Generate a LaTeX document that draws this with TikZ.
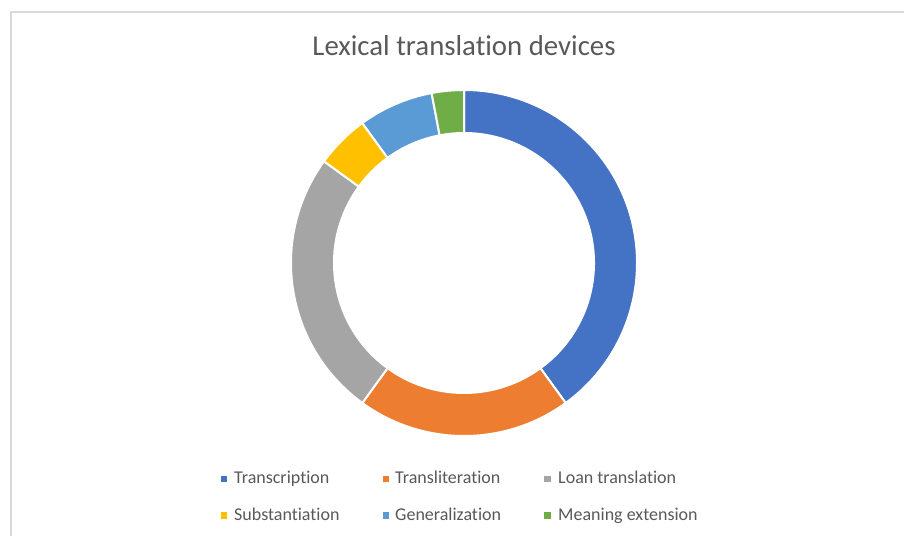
\documentclass[tikz,border=0pt]{standalone}
\usepackage{fontspec}
\setmainfont{Carlito}[Ligatures={NoCommon}]
\definecolor{cblue}{HTML}{4472C4}
\definecolor{corange}{HTML}{ED7D31}
\definecolor{cgray}{HTML}{A5A5A5}
\definecolor{cgold}{HTML}{FFC000}
\definecolor{clblue}{HTML}{5B9BD5}
\definecolor{cgreen}{HTML}{70AD47}
\definecolor{ctext}{HTML}{595959}
\definecolor{cframe}{HTML}{D9D9D9}
\begin{document}
\begin{tikzpicture}[x=1pt,y=1pt,
  slice/.style={draw=white,line width=2pt,line join=miter},
  legtext/.style={anchor=base west,inner sep=0pt,text=ctext,font=\fontsize{18}{20}\selectfont},
  legmark/.style={minimum width=6.5pt,minimum height=6.5pt,inner sep=0pt,outer sep=0pt}]
\useasboundingbox (0,0) rectangle (904,536);
\fill[white] (0,0) rectangle (904,536);
% frame
\draw[cframe,line width=2pt] (11,0) -- (11,524) -- (904,524);
% title
\node[anchor=base,inner sep=0pt,text=ctext,font=\fontsize{28.8}{32}\selectfont] (title) at (464,480) {Lexical translation devices};
% donut
\def\RO{173}
\def\RI{130}
\begin{scope}[shift={(464,273)}]
\foreach \a/\b/\c in {90/-54/cblue, -54/-126/corange, -126/-216/cgray, -216/-234/cgold, -234/-259.2/clblue, -259.2/-270/cgreen}{
  \filldraw[slice,fill=\c] (\a:\RO) arc[start angle=\a,end angle=\b,radius=\RO] -- (\b:\RI) arc[start angle=\b,end angle=\a,radius=\RI] -- cycle;
}
\end{scope}
% legend
\node[legmark,fill=cblue] (m1) at (224,57) {};
\node[legtext] (t1) at (234,53) {Transcription};
\node[legmark,fill=corange] (m2) at (386,57) {};
\node[legtext] (t2) at (395,53) {Transliteration};
\node[legmark,fill=cgray] (m3) at (547.7,57) {};
\node[legtext] (t3) at (558,53) {Loan translation};
\node[legmark,fill=cgold] (m4) at (224,20.5) {};
\node[legtext] (t4) at (234,16) {Substantiation};
\node[legmark,fill=clblue] (m5) at (386,20.5) {};
\node[legtext] (t5) at (395,16) {Generalization};
\node[legmark,fill=cgreen] (m6) at (547.7,20.5) {};
\node[legtext] (t6) at (558,16) {Meaning extension};
\end{tikzpicture}
\end{document}
